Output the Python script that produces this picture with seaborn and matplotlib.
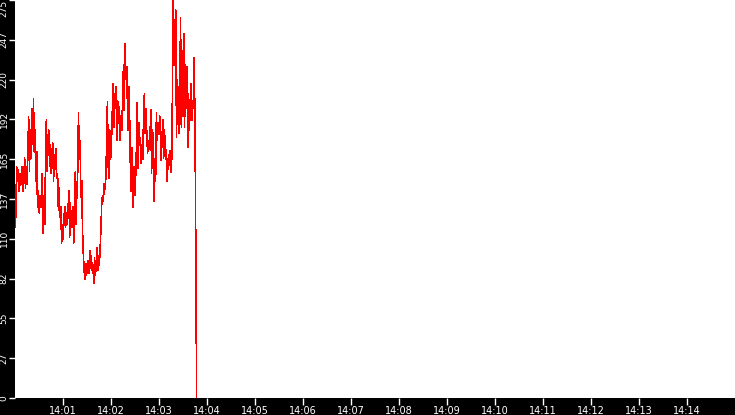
import numpy as np
import pandas as pd
import matplotlib
matplotlib.use('Agg')
import matplotlib.pyplot as plt
import matplotlib.dates as mdates
import matplotlib.ticker as mticker
import seaborn as sns

values = [118, 126, 160,
          150, 158, 143, 155, 147,
          150, 160, 143, 152,
          166, 145, 160, 148,
          170, 194, 157, 185,
          166, 200, 175, 207, 170,
          185, 150, 170, 132,
          143, 128, 140, 132, 138,
          155, 114, 140, 120,
          165, 192, 157, 180,
          185, 160, 175, 155, 170,
          176, 150, 168, 158, 172, 152,
          155, 130, 145, 125,
          132, 107, 120, 110,
          125, 132, 118, 128, 120, 130,
          143, 111, 135, 118, 125,
          132, 107, 115,
          156, 120, 143,
          155, 197,
          165, 178, 139, 150,
          116, 100,
          88, 82, 93, 85, 90,
          95, 86, 102, 90, 98, 88,
          92, 79, 97, 85, 90,
          104, 88, 98, 92,
          104, 118, 136,
          140, 136, 148, 144, 152,
          175, 205, 160,
          152, 185, 165, 175,
          195, 217, 187, 210, 200,
          215, 178, 205, 190,
          201, 178, 195, 185,
          210, 230, 199, 245, 220,
          229, 200, 185, 215,
          183, 143, 165,
          173, 132, 160, 140, 150,
          170, 204, 159, 190, 175,
          180, 162, 175, 165,
          195, 210, 183, 200,
          183, 169, 178, 172, 180,
          199, 155, 185,
          180, 136, 165, 150,
          197, 178, 190, 182, 195,
          190, 164, 180,
          192, 166, 185, 172,
          171, 150, 165, 158, 168,
          171, 156, 165,
          215, 275, 230, 255,
          268, 180, 220,
          210, 183, 200,
          263, 187, 240, 195,
          252, 187, 230, 200,
          229, 173, 210, 185, 200,
          217, 192, 205, 200,
          235, 190, 105, 0]

t_start = '2024-01-01 14:00:00'
t_end = '2024-01-01 14:03:47'
x_min = '2024-01-01 14:00:00'
x_max = '2024-01-01 14:15:00'
tick_times = pd.date_range('2024-01-01 14:01:00', '2024-01-01 14:14:00', freq='1min')

times = pd.date_range(t_start, t_end, periods=len(values))
df = pd.DataFrame({'time': times, 'value': values})

fig = plt.figure(figsize=(7.35, 4.15), dpi=100, facecolor='black')
ax = fig.add_axes([15 / 735, 17 / 415, 720 / 735, 398 / 415])
ax.set_facecolor('white')

sns.lineplot(data=df, x='time', y='value', ax=ax, color='#ff0000',
             linewidth=0.45, antialiased=False)

ymax = max(values)
ax.set_ylim(0, ymax)
ax.set_xlim(pd.Timestamp(x_min), pd.Timestamp(x_max))
ax.yaxis.set_major_locator(mticker.FixedLocator(np.linspace(0, ymax, 11)))
ax.yaxis.set_major_formatter(mticker.FuncFormatter(lambda v, p: str(int(v))))
ax.xaxis.set_major_locator(mticker.FixedLocator(mdates.date2num(tick_times)))
ax.xaxis.set_major_formatter(mdates.DateFormatter('%H:%M'))

for s in ax.spines.values():
    s.set_visible(False)
ax.tick_params(colors='white', length=4, width=1)
ax.tick_params(axis='x', labelsize=7, pad=1, length=5)
ax.tick_params(axis='y', labelsize=6.5, pad=0.5)
ylabels = ax.get_yticklabels()
for lab in ylabels:
    lab.set_rotation(90)
    lab.set_va('center')
ylabels[-1].set_va('top')
ax.set_xlabel('')
ax.set_ylabel('')

fig.savefig('out.png', dpi=100, facecolor='black')
